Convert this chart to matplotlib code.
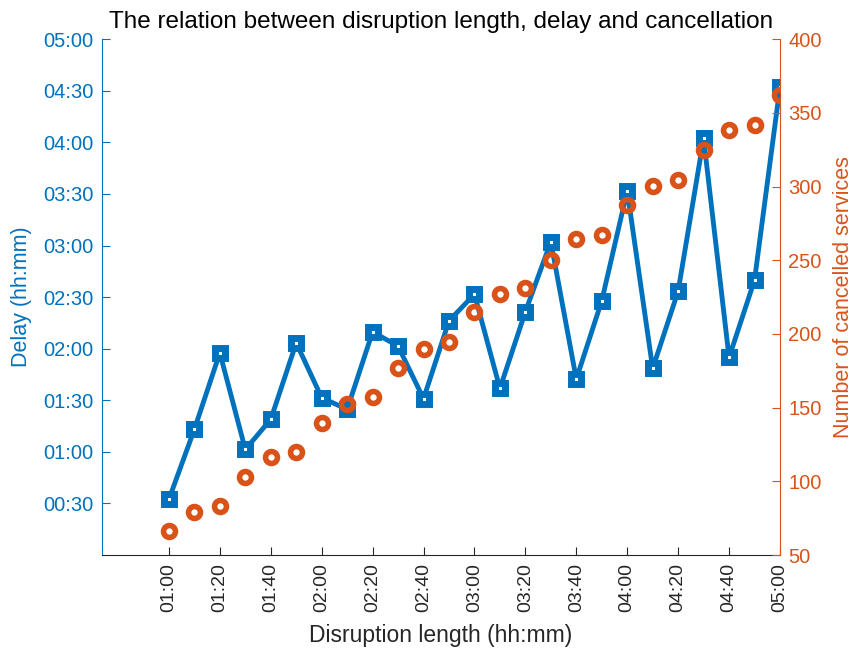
#!/usr/bin/env python3

import matplotlib
matplotlib.use("Agg")
import matplotlib.pyplot as plt
from matplotlib.ticker import FuncFormatter, FixedLocator


# disruption length in minutes (01:00 .. 05:00, every 10 min)
lengths = [60, 70, 80, 90, 100, 110, 120, 130, 140, 150, 160, 170, 180,
           190, 200, 210, 220, 230, 240, 250, 260, 270, 280, 290, 300]
# mean delay in minutes
delay = [32.4, 73.1, 117.6, 61.4, 78.9, 123.4, 91.5, 84.7, 129.8, 121.5,
         90.9, 136.2, 151.7, 96.9, 141.5, 182.2, 102.3, 147.9, 211.8, 108.5,
         153.5, 242.3, 114.9, 159.9, 272.3]
# cancelled services
cancelled = [66.5, 79, 83.3, 102.8, 116.8, 119.8, 139.9, 152.6, 157.1, 177.2,
             189.9, 194.5, 214.6, 227.3, 231.2, 250.4, 264.4, 267.4, 287.8,
             300.2, 304.7, 325.1, 338.2, 342.1, 362.5]

x_ticks = list(range(60, 301, 20))
delay_ticks = list(range(30, 301, 30))
cancel_ticks = list(range(50, 401, 50))

BLUE = "#0072BD"
ORANGE = "#D95319"
GREY = "#262626"

plt.rcParams['font.family'] = ['Liberation Sans', 'DejaVu Sans']


def hhmm(v, pos=None):
    v = int(round(v))
    return "%02d:%02d" % (v // 60, v % 60)


fig = plt.figure(figsize=(8.56, 6.48), dpi=100)
ax = fig.add_axes([0.1188, 0.1435, 0.7924, 0.7959])
ax2 = ax.twinx()

ax.plot(lengths, delay, color=BLUE, lw=3.5, marker='s', ms=7, mew=5,
        mfc='white', mec=BLUE, zorder=3)
ax2.plot(lengths, cancelled, ls='none', marker='o', ms=8.6, mew=4,
         mfc='none', mec=ORANGE, zorder=4)

ax.set_xlim(33.6, 300)
ax.set_ylim(0, 300)
ax2.set_ylim(50, 400)

ax.xaxis.set_major_locator(FixedLocator(x_ticks))
ax.xaxis.set_major_formatter(FuncFormatter(hhmm))
ax.yaxis.set_major_locator(FixedLocator(delay_ticks))
ax.yaxis.set_major_formatter(FuncFormatter(hhmm))
ax2.yaxis.set_major_locator(FixedLocator(cancel_ticks))

# no box: only left/bottom on ax, right on ax2
ax.spines['top'].set_visible(False)
ax2.spines['top'].set_visible(False)
ax.spines['right'].set_visible(False)
ax2.spines['left'].set_visible(False)
ax2.spines['bottom'].set_visible(False)
ax.spines['left'].set_color(BLUE)
ax2.spines['right'].set_color(ORANGE)
ax.spines['bottom'].set_color(GREY)
for sp in [ax.spines['left'], ax.spines['bottom'], ax2.spines['right']]:
    sp.set_linewidth(0.8)

ax.tick_params(axis='x', direction='in', length=6, colors=GREY,
               labelsize=14, rotation=90, pad=6)
ax.tick_params(axis='y', direction='in', length=6, colors=BLUE,
               labelsize=14.5, pad=6)
ax2.tick_params(axis='y', direction='in', length=6, colors=ORANGE,
                labelsize=14.5, pad=6)

ax.set_xlabel("Disruption length (hh:mm)", fontsize=16.5, color=GREY,
              labelpad=8)
ax.set_ylabel("Delay (hh:mm)", fontsize=15.5, color=BLUE, labelpad=8)
ax2.set_ylabel("Number of cancelled services", fontsize=15.5, color=ORANGE,
               labelpad=8)
ax.set_title("The relation between disruption length, delay and cancellation",
             fontsize=17.5, color='black', pad=8)

fig.savefig("out.png", dpi=100)
